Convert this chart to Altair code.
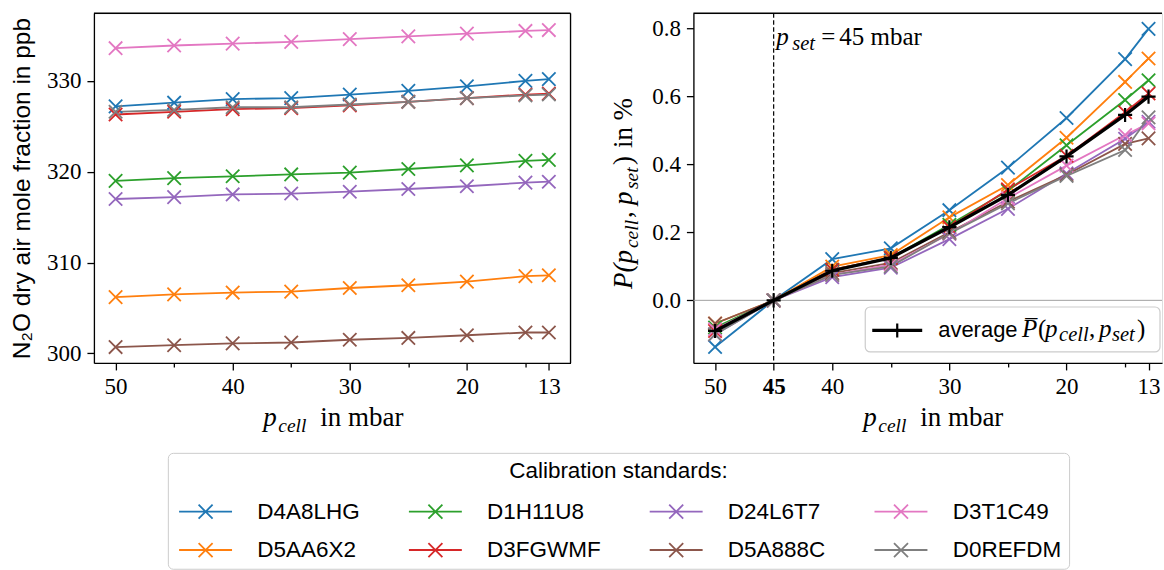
import altair as alt
import pandas as pd

# ---------------- data ----------------
PRESSURE = [50, 45, 40, 35, 30, 25, 20, 15, 13]
P_SET = 45
ZERO = 0.0

STANDARDS = ["D4A8LHG", "D5AA6X2", "D1H11U8", "D3FGWMF",
             "D24L6T7", "D5A888C", "D3T1C49", "D0REFDM"]
COLORS = ["#1f77b4", "#ff7f0e", "#2ca02c", "#d62728",
          "#9467bd", "#8c564b", "#e377c2", "#7f7f7f"]

N2O_D4A8LHG = [327.2, 327.6, 328.0, 328.1, 328.5, 328.9, 329.4, 330.0, 330.2]
N2O_D5AA6X2 = [306.2, 306.5, 306.7, 306.8, 307.2, 307.5, 307.9, 308.5, 308.6]
N2O_D1H11U8 = [319.0, 319.3, 319.5, 319.7, 319.9, 320.3, 320.7, 321.2, 321.3]
N2O_D3FGWMF = [326.3, 326.6, 326.9, 327.0, 327.3, 327.7, 328.1, 328.5, 328.6]
N2O_D24L6T7 = [317.0, 317.2, 317.5, 317.6, 317.8, 318.1, 318.4, 318.8, 318.9]
N2O_D5A888C = [300.7, 300.9, 301.1, 301.2, 301.5, 301.7, 302.0, 302.3, 302.3]
N2O_D3T1C49 = [333.6, 333.9, 334.1, 334.3, 334.6, 334.9, 335.2, 335.5, 335.6]
N2O_D0REFDM = [326.6, 326.8, 327.1, 327.1, 327.4, 327.7, 328.1, 328.4, 328.5]

P_D4A8LHG = [-0.137, 0.0, 0.121, 0.153, 0.265, 0.390, 0.536, 0.709, 0.798]
P_D5AA6X2 = [-0.068, 0.0, 0.099, 0.133, 0.244, 0.339, 0.478, 0.642, 0.711]
P_D1H11U8 = [-0.080, 0.0, 0.090, 0.125, 0.222, 0.322, 0.456, 0.589, 0.647]
P_D3FGWMF = [-0.090, 0.0, 0.090, 0.125, 0.215, 0.326, 0.425, 0.553, 0.608]
P_D24L6T7 = [-0.100, 0.0, 0.068, 0.096, 0.180, 0.269, 0.373, 0.475, 0.525]
P_D5A888C = [-0.068, 0.0, 0.080, 0.110, 0.200, 0.290, 0.369, 0.460, 0.476]
P_D3T1C49 = [-0.085, 0.0, 0.075, 0.105, 0.195, 0.300, 0.396, 0.486, 0.520]
P_D0REFDM = [-0.100, 0.0, 0.075, 0.100, 0.197, 0.285, 0.366, 0.442, 0.538]
P_AVERAGE = [-0.090, 0.0, 0.087, 0.125, 0.215, 0.310, 0.423, 0.545, 0.599]

N2O_SERIES = [N2O_D4A8LHG, N2O_D5AA6X2, N2O_D1H11U8, N2O_D3FGWMF,
              N2O_D24L6T7, N2O_D5A888C, N2O_D3T1C49, N2O_D0REFDM]
P_SERIES = [P_D4A8LHG, P_D5AA6X2, P_D1H11U8, P_D3FGWMF,
            P_D24L6T7, P_D5A888C, P_D3T1C49, P_D0REFDM]

rows_l, rows_r = [], []
for name, s1, s2 in zip(STANDARDS, N2O_SERIES, P_SERIES):
    for p, a, b in zip(PRESSURE, s1, s2):
        rows_l.append({"standard": name, "p": p, "v": a})
        rows_r.append({"standard": name, "p": p, "v": b})
df_l = pd.DataFrame(rows_l)
df_r = pd.DataFrame(rows_r)
df_avg = pd.DataFrame({"p": PRESSURE, "v": P_AVERAGE})
one = pd.DataFrame({"k": [0]})

# ---------------- style ----------------
SERIF = "Liberation Serif"
SANS = "Liberation Sans"
TICK_FS = 23
AX_FS, AX_SUB = 27, 19.5
MATH_FS, SUB_FS = 25, 20.5
LEG_FS = 22.5
W_L, W_R, H = 477, 469, 350
OX_L, OX_R, OY = 95, 694, 13  # absolute plot origins (for annotation pieces)

XPATH = "M-1,-1L1,1M-1,1L1,-1"
PLUS = "M-1,0L1,0M0,-1L0,1"
# legend handle: 53 px line with a 14 px cross in its middle (unit = 7 px)
LEG_PATH = "M-1,0L6.57,0M1.79,-1L3.79,1M1.79,1L3.79,-1"

minor_test_l = "indexof([45,35,25,15], datum.value) >= 0"
minor_test_r = "indexof([35,25,15], datum.value) >= 0"


def x_axis(test, bold45=False):
    kw = dict(
        values=PRESSURE, title=None, grid=False,
        labelExpr=f"{test} ? '' : datum.label",
        tickSize={"condition": {"test": test, "value": 4}, "value": 7},
        labelFont=SERIF, labelFontSize=TICK_FS, labelColor="black", labelPadding=6,
        tickColor="black", tickWidth=1.3, domainColor="black", domainWidth=1.3,
    )
    if bold45:
        kw["labelFontWeight"] = {"condition": {"test": "datum.value == 45", "value": "bold"},
                                 "value": "normal"}
    return alt.Axis(**kw)


legend = alt.Legend(
    title="Calibration standards:", orient="none", legendX=74, legendY=440,
    columns=4, gridAlign="each", symbolType=LEG_PATH, symbolSize=196, symbolStrokeWidth=1.8,
    symbolFillColor="transparent", symbolOpacity=1,
    labelFont=SANS, labelFontSize=LEG_FS, labelColor="black", labelOffset=60, labelLimit=400,
    titleFont=SANS, titleFontSize=LEG_FS, titleFontWeight="normal", titleColor="black",
    titleAnchor="middle", titleLimit=1000, titlePadding=18, columnPadding=44, rowPadding=15.5,
    padding=7, strokeColor="#cccccc", fillColor="white", cornerRadius=5,
)
color_enc = alt.Color("standard:N", scale=alt.Scale(domain=STANDARDS, range=COLORS),
                      legend=legend)


def piece(text, x, y, size, italic=True, font=SERIF, angle=0, weight="normal"):
    return alt.Chart(one).mark_text(
        text=text, font=font, fontSize=size, fontStyle="italic" if italic else "normal",
        fontWeight=weight, align="left", baseline="alphabetic", angle=angle, color="black",
    ).encode(x=alt.value(x), y=alt.value(y))


# ---------------- left panel ----------------
xL = alt.X("p:Q", scale=alt.Scale(domain=[11.15, 51.85], reverse=True, nice=False, zero=False),
           axis=x_axis(minor_test_l))
yL = alt.Y("v:Q", scale=alt.Scale(domain=[298.95, 337.45], nice=False, zero=False),
           axis=alt.Axis(values=[300, 310, 320, 330], title="N\u2082O dry air mole fraction in ppb",
                         grid=False, tickSize=7, tickColor="black", tickWidth=1.3,
                         domainColor="black", domainWidth=1.3,
                         labelFont=SERIF, labelFontSize=TICK_FS, labelColor="black", labelPadding=6,
                         titleFont=SANS, titleFontSize=24.5, titleFontWeight="normal",
                         titleColor="black", titleX=-64, titleY=H / 2, titleAngle=270,
                         titleAlign="center", titleBaseline="alphabetic"))

left_lines = alt.Chart(df_l).mark_line(strokeWidth=1.8).encode(x=xL, y=yL, color=color_enc)
left_pts = alt.Chart(df_l).mark_point(shape=XPATH, size=180, strokeWidth=1.8, filled=False,
                                      opacity=1).encode(x=xL, y=yL, color=color_enc)
frame_top_l = alt.Chart(one).mark_rule(color="black", strokeWidth=1.3).encode(
    x=alt.value(0), x2=alt.value(W_L), y=alt.value(0))
frame_right_l = alt.Chart(one).mark_rule(color="black", strokeWidth=1.3).encode(
    x=alt.value(W_L), y=alt.value(0), y2=alt.value(H))


def xtitle(cx_abs, ox):
    start = cx_abs - 69
    base = 426 - OY
    return [
        piece("p", start - ox, base, AX_FS),
        piece("cell", start + 15 - ox, base + 6, AX_SUB),
        piece("in mbar", start + 57 - ox, base, AX_FS, italic=False),
    ]


left = alt.layer(left_lines, left_pts, frame_top_l, frame_right_l, *xtitle(333.5, OX_L)).properties(
    width=W_L, height=H)

# ---------------- right panel ----------------
xR = alt.X("p:Q", scale=alt.Scale(domain=[11.85, 51.85], reverse=True, nice=False, zero=False),
           axis=x_axis(minor_test_r, bold45=True))
yR = alt.Y("v:Q", scale=alt.Scale(domain=[-0.184, 0.844], nice=False, zero=False),
           axis=alt.Axis(values=[0, 0.2, 0.4, 0.6, 0.8], format=".1f", title=None, grid=False,
                         tickSize=7, tickColor="black", tickWidth=1.3,
                         domainColor="black", domainWidth=1.3,
                         labelFont=SERIF, labelFontSize=TICK_FS, labelColor="black", labelPadding=6))

zero_line = alt.Chart(pd.DataFrame({"v": [ZERO]})).mark_rule(color="#a0a0a0", strokeWidth=1).encode(y=yR)
pset_line = alt.Chart(pd.DataFrame({"p": [P_SET]})).mark_rule(
    color="black", strokeWidth=1.2, strokeDash=[4.5, 2.5]).encode(x=xR)
right_lines = alt.Chart(df_r).mark_line(strokeWidth=1.8).encode(x=xR, y=yR, color=color_enc)
right_pts = alt.Chart(df_r).mark_point(shape=XPATH, size=180, strokeWidth=1.8, filled=False,
                                       opacity=1).encode(x=xR, y=yR, color=color_enc)
avg_line = alt.Chart(df_avg).mark_line(color="black", strokeWidth=3.3).encode(x=xR, y=yR)
avg_pts = alt.Chart(df_avg).mark_point(shape=PLUS, size=200, strokeWidth=2.2, filled=False,
                                       color="black", opacity=1).encode(x=xR, y=yR)
frame_top_r = alt.Chart(one).mark_rule(color="black", strokeWidth=1.3).encode(
    x=alt.value(0), x2=alt.value(W_R), y=alt.value(0))

# inner legend for the average
leg_box = alt.Chart(one).mark_rect(fill="white", fillOpacity=0.85, stroke="#cccccc", strokeWidth=1.2,
                                   cornerRadius=5).encode(
    x=alt.value(866 - OX_R), x2=alt.value(1161 - OX_R), y=alt.value(307 - OY), y2=alt.value(352 - OY))
leg_line = alt.Chart(one).mark_rule(color="black", strokeWidth=3.3).encode(
    x=alt.value(873 - OX_R), x2=alt.value(923 - OX_R), y=alt.value(330.5 - OY))
leg_plus = alt.Chart(one).mark_point(shape=PLUS, size=200, strokeWidth=2.2, filled=False, color="black",
                                     opacity=1).encode(x=alt.value(898 - OX_R), y=alt.value(330.5 - OY))
lb = 337.5 - OY
leg_text = [
    piece("average", 939 - OX_R, lb, 22, italic=False, font=SANS),
    piece("P\u0305", 1023 - OX_R, lb, MATH_FS),
    piece("(", 1039 - OX_R, lb, MATH_FS, italic=False),
    piece("p", 1046 - OX_R, lb, MATH_FS),
    piece("cell", 1060 - OX_R, lb + 4, SUB_FS),
    piece(",", 1090 - OX_R, lb, MATH_FS, italic=False),
    piece("p", 1100 - OX_R, lb, MATH_FS),
    piece("set", 1113 - OX_R, lb + 4, SUB_FS),
    piece(")", 1138 - OX_R, lb, MATH_FS, italic=False),
]

# p_set annotation
ab = 45 - OY
pset_text = [
    piece("p", 777 - OX_R, ab, MATH_FS),
    piece("set", 793 - OX_R, ab + 5, SUB_FS),
    piece("=", 822 - OX_R, ab, MATH_FS, italic=False),
    piece("45 mbar", 840 - OX_R, ab, MATH_FS, italic=False),
]

# rotated y title of right panel (reads bottom -> top)
yb = 633 - OX_R
ytitle = [
    piece("P(p", yb, 289 - OY, AX_FS, angle=270),
    piece("cell", yb + 6, 248 - OY, AX_SUB, angle=270),
    piece(",", yb, 218 - OY, AX_FS, italic=False, angle=270),
    piece("p", yb, 205 - OY, AX_FS, angle=270),
    piece("set", yb + 6, 189 - OY, AX_SUB, angle=270),
    piece(")", yb, 165 - OY, AX_FS, italic=False, angle=270),
    piece("in %", yb, 148 - OY, AX_FS, italic=False, angle=270),
]

right = alt.layer(zero_line, pset_line, right_lines, right_pts, avg_line, avg_pts, frame_top_r,
                  leg_box, leg_line, leg_plus, *leg_text, *pset_text, *ytitle,
                  *xtitle(933, OX_R)).properties(width=W_R, height=H)

chart = alt.hconcat(left, right, spacing=123, bounds="flush").properties(
    padding={"left": 9, "top": 11, "right": 0, "bottom": 0}
).configure_view(stroke=None).configure(background="white")

chart.save("out.html", embed_options={"renderer": "svg", "actions": False})
